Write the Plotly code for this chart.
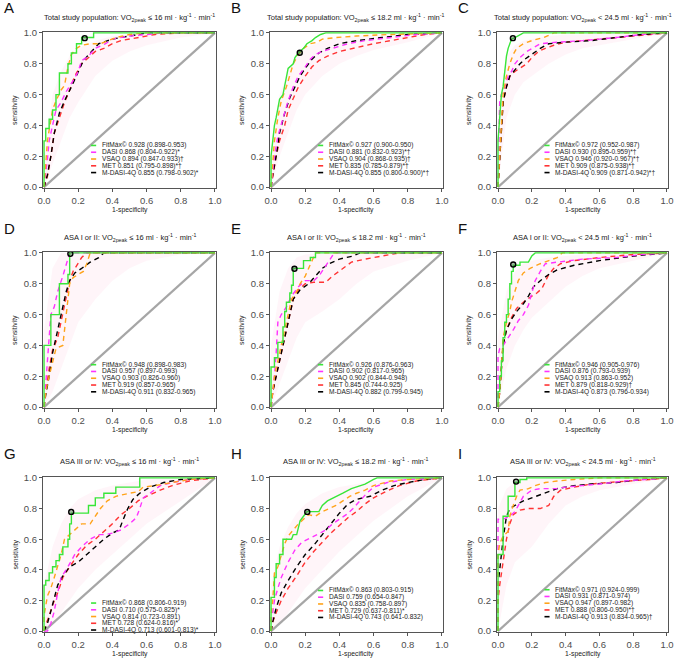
import plotly.graph_objects as go

# ---------------- data (1-specificity, sensitivity) ----------------
A_FIT = [(0,0),(0,0.3),(0.01,0.3),(0.01,0.38),(0.03,0.38),(0.03,0.44),(0.05,0.44),(0.05,0.5),(0.07,0.5),(0.07,0.6),(0.09,0.6),(0.09,0.74),(0.14,0.74),(0.14,0.8),(0.16,0.8),(0.16,0.87),(0.19,0.87),(0.19,0.93),(0.22,0.93),(0.22,0.97),(0.29,0.97),(0.29,1),(1,1)]
A_DASI = [(0,0),(0.01,0.08),(0.02,0.18),(0.03,0.3),(0.05,0.4),(0.07,0.5),(0.1,0.55),(0.13,0.62),(0.17,0.69),(0.2,0.75),(0.22,0.82),(0.26,0.85),(0.3,0.9),(0.36,0.93),(0.4,0.96),(0.5,0.98),(0.7,1),(1,1)]
A_VSAQ = [(0,0),(0.01,0.13),(0.02,0.3),(0.03,0.37),(0.05,0.5),(0.07,0.56),(0.1,0.63),(0.12,0.66),(0.14,0.78),(0.16,0.86),(0.19,0.9),(0.22,0.92),(0.27,0.93),(0.33,0.93),(0.37,0.95),(0.42,0.97),(0.5,0.99),(0.6,1),(1,1)]
A_MET = [(0,0),(0.02,0.07),(0.04,0.2),(0.06,0.35),(0.09,0.45),(0.12,0.55),(0.15,0.63),(0.18,0.72),(0.22,0.8),(0.26,0.84),(0.3,0.88),(0.35,0.9),(0.4,0.93),(0.45,0.95),(0.55,0.97),(0.65,0.99),(0.8,1),(1,1)]
A_MDASI = [(0,0),(0.02,0.08),(0.04,0.2),(0.06,0.35),(0.09,0.48),(0.12,0.56),(0.16,0.65),(0.2,0.75),(0.23,0.82),(0.27,0.87),(0.32,0.93),(0.4,0.96),(0.5,0.98),(0.6,1),(1,1)]

B_FIT = [(0,0),(0,0.2),(0.01,0.3),(0.02,0.4),(0.03,0.45),(0.04,0.5),(0.05,0.57),(0.07,0.6),(0.09,0.7),(0.1,0.77),(0.13,0.8),(0.14,0.84),(0.16,0.87),(0.19,0.9),(0.21,0.93),(0.24,0.95),(0.26,0.97),(0.29,0.99),(0.32,1),(1,1)]
B_DASI = [(0,0),(0.01,0.1),(0.02,0.2),(0.04,0.33),(0.07,0.45),(0.1,0.56),(0.13,0.65),(0.16,0.72),(0.2,0.78),(0.23,0.83),(0.26,0.86),(0.3,0.88),(0.36,0.9),(0.45,0.93),(0.55,0.95),(0.7,0.97),(0.85,0.99),(1,1)]
B_VSAQ = [(0,0),(0.01,0.15),(0.02,0.3),(0.04,0.45),(0.06,0.56),(0.09,0.65),(0.11,0.72),(0.13,0.8),(0.16,0.86),(0.19,0.9),(0.23,0.93),(0.27,0.94),(0.3,0.96),(0.38,0.97),(0.5,0.98),(0.7,0.99),(1,1)]
B_MET = [(0,0),(0.01,0.07),(0.03,0.2),(0.05,0.3),(0.08,0.4),(0.1,0.5),(0.13,0.58),(0.16,0.65),(0.2,0.72),(0.24,0.78),(0.28,0.82),(0.33,0.85),(0.4,0.88),(0.48,0.9),(0.6,0.93),(0.75,0.96),(0.9,0.99),(1,1)]
B_MDASI = [(0,0),(0.01,0.08),(0.03,0.2),(0.05,0.35),(0.08,0.48),(0.11,0.58),(0.14,0.65),(0.17,0.72),(0.2,0.77),(0.24,0.83),(0.28,0.87),(0.33,0.9),(0.4,0.93),(0.5,0.95),(0.65,0.97),(0.8,0.99),(1,1)]

C_FIT = [(0,0),(0,0.3),(0.01,0.45),(0.02,0.6),(0.03,0.65),(0.04,0.75),(0.05,0.85),(0.06,0.9),(0.08,0.96),(0.1,0.97),(0.13,0.99),(0.15,1),(1,1)]
C_DASI = [(0,0),(0.005,0.3),(0.01,0.55),(0.02,0.6),(0.04,0.65),(0.06,0.72),(0.08,0.75),(0.1,0.8),(0.13,0.84),(0.17,0.88),(0.2,0.9),(0.25,0.93),(0.35,0.94),(0.5,0.95),(0.7,0.97),(0.85,0.99),(1,1)]
C_VSAQ = [(0,0),(0.01,0.2),(0.02,0.45),(0.03,0.6),(0.05,0.72),(0.07,0.8),(0.09,0.86),(0.11,0.9),(0.15,0.93),(0.2,0.95),(0.27,0.97),(0.33,1),(1,1)]
C_MET = [(0,0),(0.01,0.2),(0.02,0.4),(0.03,0.55),(0.05,0.65),(0.07,0.72),(0.1,0.75),(0.13,0.77),(0.17,0.8),(0.2,0.84),(0.24,0.88),(0.28,0.9),(0.33,0.92),(0.4,0.94),(0.5,0.95),(0.7,0.97),(0.9,0.99),(1,1)]
C_MDASI = [(0,0),(0.01,0.2),(0.02,0.4),(0.03,0.55),(0.05,0.65),(0.07,0.72),(0.1,0.76),(0.13,0.8),(0.16,0.83),(0.2,0.86),(0.25,0.9),(0.3,0.93),(0.4,0.94),(0.55,0.95),(0.7,0.97),(0.85,0.99),(1,1)]

D_FIT = [(0,0),(0,0.4),(0.04,0.4),(0.04,0.6),(0.09,0.6),(0.09,0.8),(0.14,0.8),(0.14,0.86),(0.15,0.86),(0.15,1),(1,1)]
D_DASI = [(0,0),(0.01,0.15),(0.02,0.3),(0.03,0.45),(0.04,0.6),(0.06,0.65),(0.08,0.75),(0.11,0.85),(0.13,0.92),(0.15,1),(1,1)]
D_VSAQ = [(0,0),(0.01,0.1),(0.03,0.2),(0.05,0.3),(0.07,0.38),(0.11,0.4),(0.12,0.5),(0.13,0.6),(0.14,0.7),(0.15,0.8),(0.17,0.84),(0.2,0.86),(0.23,0.88),(0.25,0.93),(0.27,1),(1,1)]
D_MET = [(0,0),(0.01,0.1),(0.03,0.25),(0.05,0.37),(0.08,0.45),(0.1,0.55),(0.12,0.65),(0.14,0.75),(0.15,0.82),(0.17,0.88),(0.2,0.93),(0.22,0.97),(0.25,1),(1,1)]
D_MDASI = [(0,0),(0.01,0.08),(0.03,0.2),(0.05,0.35),(0.07,0.45),(0.09,0.55),(0.11,0.65),(0.13,0.75),(0.15,0.82),(0.18,0.87),(0.22,0.9),(0.27,0.94),(0.32,0.97),(0.35,1),(1,1)]

E_FIT = [(0,0),(0,0.26),(0.02,0.26),(0.02,0.32),(0.04,0.32),(0.04,0.42),(0.07,0.42),(0.07,0.52),(0.08,0.52),(0.08,0.62),(0.09,0.62),(0.09,0.68),(0.11,0.68),(0.11,0.74),(0.12,0.74),(0.12,0.79),(0.13,0.79),(0.13,0.9),(0.19,0.9),(0.19,0.95),(0.23,0.95),(0.23,0.97),(0.26,0.97),(0.26,1),(1,1)]
E_DASI = [(0,0),(0.01,0.1),(0.02,0.2),(0.03,0.35),(0.04,0.55),(0.06,0.6),(0.09,0.65),(0.12,0.72),(0.16,0.78),(0.2,0.82),(0.25,0.82),(0.28,0.85),(0.31,0.9),(0.34,0.95),(0.37,1),(1,1)]
E_VSAQ = [(0,0),(0.01,0.1),(0.02,0.2),(0.04,0.3),(0.06,0.4),(0.08,0.5),(0.1,0.6),(0.12,0.7),(0.15,0.75),(0.17,0.8),(0.2,0.85),(0.22,0.9),(0.24,0.95),(0.26,1),(1,1)]
E_MET = [(0,0),(0.01,0.1),(0.03,0.2),(0.05,0.3),(0.07,0.4),(0.09,0.5),(0.11,0.6),(0.13,0.7),(0.16,0.76),(0.2,0.8),(0.25,0.81),(0.32,0.81),(0.36,0.85),(0.42,0.9),(0.47,0.94),(0.55,0.96),(0.65,0.98),(0.75,1),(1,1)]
E_MDASI = [(0,0),(0.01,0.1),(0.03,0.2),(0.05,0.3),(0.07,0.4),(0.09,0.5),(0.11,0.6),(0.13,0.7),(0.17,0.76),(0.22,0.8),(0.26,0.85),(0.3,0.9),(0.34,0.93),(0.4,0.96),(0.48,0.98),(0.52,1),(1,1)]

F_FIT = [(0,0),(0,0.1),(0.01,0.1),(0.01,0.2),(0.02,0.2),(0.02,0.3),(0.03,0.3),(0.03,0.45),(0.04,0.45),(0.04,0.55),(0.05,0.55),(0.05,0.6),(0.06,0.6),(0.06,0.7),(0.07,0.7),(0.07,0.8),(0.08,0.8),(0.08,0.88),(0.09,0.88),(0.09,0.92),(0.13,0.92),(0.13,0.94),(0.18,0.94),(0.19,0.96),(0.2,0.98),(0.22,1),(1,1)]
F_DASI = [(0,0),(0,0.33),(0.01,0.38),(0.03,0.4),(0.06,0.45),(0.09,0.5),(0.12,0.56),(0.15,0.6),(0.18,0.66),(0.2,0.75),(0.22,0.82),(0.25,0.88),(0.28,0.93),(0.35,0.94),(0.5,0.96),(0.7,0.97),(0.85,0.99),(1,1)]
F_VSAQ = [(0,0),(0.01,0.1),(0.02,0.25),(0.03,0.45),(0.05,0.55),(0.07,0.62),(0.08,0.68),(0.1,0.75),(0.12,0.82),(0.15,0.87),(0.19,0.9),(0.25,0.93),(0.3,0.95),(0.35,0.97),(0.38,1),(1,1)]
F_MET = [(0,0),(0.01,0.1),(0.02,0.25),(0.03,0.4),(0.05,0.5),(0.08,0.58),(0.11,0.64),(0.15,0.68),(0.2,0.72),(0.23,0.74),(0.26,0.77),(0.28,0.82),(0.3,0.86),(0.33,0.9),(0.37,0.93),(0.45,0.95),(0.6,0.97),(0.8,0.99),(1,1)]
F_MDASI = [(0,0),(0.01,0.1),(0.02,0.25),(0.03,0.4),(0.05,0.5),(0.08,0.57),(0.11,0.62),(0.15,0.67),(0.18,0.72),(0.21,0.78),(0.25,0.82),(0.3,0.86),(0.35,0.89),(0.45,0.92),(0.6,0.95),(0.8,0.98),(1,1)]

G_FIT = [(0,0),(0,0.3),(0.01,0.3),(0.01,0.33),(0.03,0.33),(0.03,0.38),(0.05,0.38),(0.05,0.42),(0.07,0.42),(0.07,0.46),(0.09,0.46),(0.09,0.5),(0.11,0.5),(0.11,0.55),(0.14,0.55),(0.14,0.6),(0.15,0.6),(0.15,0.7),(0.16,0.7),(0.16,0.77),(0.26,0.77),(0.26,0.82),(0.3,0.82),(0.3,0.87),(0.35,0.87),(0.35,0.9),(0.42,0.9),(0.42,0.94),(0.56,0.94),(0.56,1),(1,1)]
G_DASI = [(0,0),(0.02,0),(0.04,0.05),(0.06,0.13),(0.08,0.25),(0.1,0.35),(0.14,0.42),(0.18,0.5),(0.22,0.55),(0.27,0.6),(0.32,0.63),(0.36,0.63),(0.4,0.64),(0.45,0.66),(0.5,0.7),(0.54,0.74),(0.56,0.8),(0.58,0.87),(0.62,0.9),(0.68,0.95),(0.75,0.97),(0.85,0.99),(1,1)]
G_VSAQ = [(0,0),(0,0.1),(0.02,0.23),(0.04,0.28),(0.06,0.35),(0.08,0.42),(0.1,0.5),(0.12,0.6),(0.15,0.63),(0.18,0.66),(0.22,0.7),(0.27,0.7),(0.3,0.75),(0.33,0.8),(0.37,0.85),(0.42,0.88),(0.5,0.9),(0.55,0.91),(0.58,0.94),(0.65,0.95),(0.75,0.97),(0.85,0.99),(1,1)]
G_MET = [(0,0),(0.01,0.04),(0.03,0.1),(0.05,0.17),(0.08,0.25),(0.11,0.35),(0.15,0.42),(0.2,0.5),(0.25,0.56),(0.3,0.6),(0.35,0.65),(0.4,0.7),(0.45,0.76),(0.5,0.8),(0.55,0.85),(0.6,0.88),(0.68,0.92),(0.75,0.95),(0.85,0.98),(1,1)]
G_MDASI = [(0,0),(0.02,0.05),(0.04,0.13),(0.06,0.22),(0.08,0.3),(0.11,0.36),(0.15,0.42),(0.2,0.45),(0.25,0.5),(0.3,0.55),(0.35,0.6),(0.4,0.64),(0.44,0.66),(0.46,0.72),(0.49,0.8),(0.52,0.86),(0.56,0.9),(0.62,0.94),(0.7,0.97),(0.8,0.99),(1,1)]

H_FIT = [(0,0),(0,0.22),(0.02,0.22),(0.02,0.35),(0.03,0.35),(0.03,0.44),(0.05,0.44),(0.05,0.5),(0.07,0.5),(0.07,0.6),(0.12,0.6),(0.13,0.63),(0.15,0.63),(0.16,0.68),(0.17,0.72),(0.19,0.75),(0.21,0.78),(0.28,0.78),(0.3,0.82),(0.33,0.85),(0.37,0.87),(0.42,0.9),(0.47,0.93),(0.55,0.96),(0.6,0.99),(0.62,1),(1,1)]
H_DASI = [(0,0),(0,0.05),(0.01,0.12),(0.02,0.2),(0.04,0.28),(0.06,0.35),(0.1,0.45),(0.14,0.53),(0.18,0.58),(0.22,0.6),(0.27,0.63),(0.32,0.66),(0.36,0.7),(0.4,0.73),(0.44,0.76),(0.48,0.8),(0.52,0.85),(0.56,0.9),(0.6,0.94),(0.68,0.97),(0.8,0.99),(1,1)]
H_VSAQ = [(0,0),(0,0.1),(0.01,0.2),(0.02,0.38),(0.04,0.42),(0.06,0.5),(0.08,0.57),(0.1,0.62),(0.13,0.66),(0.16,0.7),(0.19,0.73),(0.22,0.76),(0.26,0.75),(0.3,0.78),(0.34,0.8),(0.38,0.82),(0.42,0.85),(0.46,0.88),(0.5,0.9),(0.55,0.92),(0.6,0.95),(0.7,0.98),(0.8,0.99),(1,1)]
H_MET = [(0,0),(0.01,0.06),(0.03,0.12),(0.06,0.2),(0.1,0.28),(0.15,0.36),(0.2,0.45),(0.25,0.52),(0.3,0.58),(0.35,0.64),(0.4,0.69),(0.45,0.74),(0.5,0.78),(0.55,0.83),(0.6,0.87),(0.67,0.91),(0.75,0.95),(0.85,0.98),(1,1)]
H_MDASI = [(0,0),(0.01,0.06),(0.03,0.15),(0.06,0.25),(0.1,0.33),(0.15,0.42),(0.2,0.5),(0.25,0.56),(0.3,0.63),(0.35,0.7),(0.4,0.77),(0.45,0.83),(0.5,0.86),(0.58,0.88),(0.65,0.92),(0.72,0.95),(0.8,0.97),(0.9,0.99),(1,1)]

I_FIT = [(0,0),(0,0.5),(0.03,0.5),(0.03,0.75),(0.06,0.75),(0.06,0.88),(0.1,0.88),(0.1,0.97),(0.13,0.97),(0.13,0.99),(0.17,0.99),(0.17,1),(1,1)]
I_DASI = [(0,0),(0,0.73),(0.03,0.73),(0.05,0.74),(0.07,0.75),(0.1,0.78),(0.12,0.82),(0.15,0.88),(0.2,0.92),(0.25,0.93),(0.3,0.93),(0.35,0.93),(0.4,0.94),(0.5,0.95),(0.6,0.96),(0.75,0.98),(0.9,0.99),(1,1)]
I_VSAQ = [(0,0),(0,0.5),(0.01,0.57),(0.03,0.62),(0.06,0.65),(0.07,0.75),(0.09,0.82),(0.11,0.88),(0.13,0.92),(0.18,0.93),(0.22,0.95),(0.28,0.97),(0.35,0.98),(0.45,0.99),(0.6,1),(1,1)]
I_MET = [(0,0),(0,0.2),(0.01,0.3),(0.03,0.45),(0.05,0.6),(0.07,0.7),(0.09,0.76),(0.13,0.79),(0.18,0.8),(0.25,0.8),(0.3,0.82),(0.33,0.88),(0.37,0.92),(0.45,0.94),(0.55,0.96),(0.65,0.97),(0.8,0.98),(0.9,0.99),(1,1)]
I_MDASI = [(0,0),(0,0.3),(0.01,0.4),(0.03,0.6),(0.05,0.75),(0.07,0.8),(0.1,0.82),(0.15,0.85),(0.2,0.87),(0.25,0.89),(0.3,0.91),(0.35,0.93),(0.45,0.95),(0.55,0.96),(0.7,0.97),(0.85,0.99),(1,1)]

# optimal cut-off point of FitMax per panel
OPT_X = [0.238, 0.168, 0.088, 0.154, 0.137, 0.090, 0.159, 0.212, 0.107]
OPT_Y = [0.966, 0.871, 0.966, 0.994, 0.897, 0.925, 0.778, 0.778, 0.976]

# faint confidence band envelope per panel
BAND_X = [0, 0.05, 0.1, 0.15, 0.2, 0.3, 0.4, 0.5, 0.6, 0.8, 1.0]
BAND_LO = {
    "A": [0, 0.15, 0.3, 0.45, 0.55, 0.72, 0.82, 0.88, 0.92, 0.97, 1],
    "B": [0, 0.2, 0.35, 0.5, 0.6, 0.72, 0.8, 0.85, 0.89, 0.94, 1],
    "C": [0, 0.45, 0.6, 0.68, 0.72, 0.8, 0.86, 0.9, 0.92, 0.96, 1],
    "D": [0, 0.1, 0.25, 0.4, 0.55, 0.7, 0.82, 0.9, 0.95, 0.99, 1],
    "E": [0, 0.15, 0.3, 0.45, 0.55, 0.62, 0.7, 0.8, 0.88, 0.95, 1],
    "F": [0, 0.25, 0.4, 0.5, 0.58, 0.68, 0.78, 0.85, 0.9, 0.95, 1],
    "G": [0, 0.05, 0.12, 0.2, 0.28, 0.4, 0.5, 0.6, 0.7, 0.85, 1],
    "H": [0, 0.05, 0.12, 0.2, 0.28, 0.4, 0.52, 0.62, 0.72, 0.88, 1],
    "I": [0, 0.3, 0.45, 0.5, 0.55, 0.7, 0.82, 0.88, 0.92, 0.96, 1],
}
BAND_HI = {
    "A": [0.2, 0.6, 0.75, 0.85, 0.9, 0.95, 0.98, 0.99, 1, 1, 1],
    "B": [0.25, 0.6, 0.75, 0.85, 0.9, 0.95, 0.97, 0.98, 0.99, 1, 1],
    "C": [0.5, 0.85, 0.92, 0.95, 0.96, 0.98, 0.99, 0.99, 1, 1, 1],
    "D": [0.5, 0.9, 1, 1, 1, 1, 1, 1, 1, 1, 1],
    "E": [0.4, 0.75, 0.9, 0.97, 0.99, 1, 1, 1, 1, 1, 1],
    "F": [0.45, 0.75, 0.88, 0.93, 0.95, 0.97, 0.98, 0.99, 1, 1, 1],
    "G": [0.3, 0.55, 0.7, 0.8, 0.86, 0.92, 0.95, 0.97, 0.99, 1, 1],
    "H": [0.3, 0.55, 0.68, 0.77, 0.83, 0.9, 0.94, 0.96, 0.98, 1, 1],
    "I": [0.8, 0.93, 0.97, 0.98, 0.99, 1, 1, 1, 1, 1, 1],
}

PANEL_LETTERS = ["A", "B", "C", "D", "E", "F", "G", "H", "I"]
GROUPS = ["Total study population", "Total study population", "Total study population",
          "ASA I or II", "ASA I or II", "ASA I or II",
          "ASA III or IV", "ASA III or IV", "ASA III or IV"]
THRESHOLDS = ["≤ 16", "≤ 18.2", "< 24.5"] * 3

SERIES_NAMES = ["FitMáx©", "DASI", "VSAQ", "MET", "M-DASI-4Q"]
SERIES_COLORS = ["#39e639", "#ff33ff", "#ffa31a", "#ff3333", "#000000"]

AUC_TEXT = {
    "A": ["0.928 (0.898-0.953)", "0.868 (0.804-0.922)*", "0.894 (0.847-0.933)†", "0.851 (0.795-0.898)*†", "0.855 (0.798-0.902)*"],
    "B": ["0.927 (0.900-0.950)", "0.881 (0.832-0.923)*†", "0.904 (0.868-0.935)†", "0.835 (0.785-0.879)*†", "0.855 (0.800-0.900)*†"],
    "C": ["0.972 (0.952-0.987)", "0.930 (0.895-0.959)*†", "0.946 (0.920-0.967)*†", "0.909 (0.875-0.938)*†", "0.909 (0.871-0.942)*†"],
    "D": ["0.948 (0.898-0.983)", "0.957 (0.897-0.993)", "0.903 (0.826-0.960)", "0.919 (0.857-0.965)", "0.911 (0.832-0.965)"],
    "E": ["0.926 (0.876-0.963)", "0.902 (0.817-0.965)", "0.902 (0.844-0.948)", "0.845 (0.744-0.925)", "0.882 (0.799-0.945)"],
    "F": ["0.946 (0.905-0.976)", "0.876 (0.793-0.939)", "0.913 (0.863-0.952)", "0.879 (0.818-0.929)†", "0.873 (0.796-0.934)"],
    "G": ["0.868 (0.806-0.919)", "0.710 (0.575-0.825)*", "0.814 (0.723-0.891)", "0.728 (0.624-0.816)*", "0.713 (0.601-0.813)*"],
    "H": ["0.863 (0.803-0.915)", "0.759 (0.654-0.847)", "0.835 (0.758-0.897)", "0.729 (0.637-0.811)*", "0.743 (0.641-0.832)"],
    "I": ["0.971 (0.924-0.999)", "0.931 (0.871-0.974)", "0.947 (0.897-0.982)", "0.888 (0.806-0.950)*†", "0.913 (0.834-0.965)†"],
}

CURVES = {
    "A": [A_FIT, A_DASI, A_VSAQ, A_MET, A_MDASI],
    "B": [B_FIT, B_DASI, B_VSAQ, B_MET, B_MDASI],
    "C": [C_FIT, C_DASI, C_VSAQ, C_MET, C_MDASI],
    "D": [D_FIT, D_DASI, D_VSAQ, D_MET, D_MDASI],
    "E": [E_FIT, E_DASI, E_VSAQ, E_MET, E_MDASI],
    "F": [F_FIT, F_DASI, F_VSAQ, F_MET, F_MDASI],
    "G": [G_FIT, G_DASI, G_VSAQ, G_MET, G_MDASI],
    "H": [H_FIT, H_DASI, H_VSAQ, H_MET, H_MDASI],
    "I": [I_FIT, I_DASI, I_VSAQ, I_MET, I_MDASI],
}

TICKS = [0, 0.2, 0.4, 0.6, 0.8, 1.0]
TICK_LABELS = ["0.0", "0.2", "0.4", "0.6", "0.8", "1.0"]

# ---------------- layout geometry (pixels) ----------------
W, H = 676, 660
COL_PX = [(43, 216), (270, 443), (497, 668)]
ROW_PX = [(32, 188), (252, 408), (477, 632)]
LEGEND_TOP = [0.27, 0.27, 0.27, 0.275, 0.275, 0.275, 0.183, 0.265, 0.27]
LEGEND_STEP = 0.044

FONT = "Liberation Sans, Arial, sans-serif"


def px_x(p):
    return p / W


def px_y(p):
    return 1 - p / H


fig = go.Figure()
annotations = []
shapes = []
layout_axes = {}

draw_order = [3, 4, 1, 2, 0]

for i, letter in enumerate(PANEL_LETTERS):
    r, c = divmod(i, 3)
    n = i + 1
    xs = "" if n == 1 else str(n)
    xref, yref = "x" + xs, "y" + xs
    l, rgt = COL_PX[c]
    t, b = ROW_PX[r]

    axis_common = dict(
        range=[-0.006, 1.006], showgrid=False, zeroline=False, automargin=False,
        showline=True, mirror=True, linecolor="#555555", linewidth=1.1,
        ticks="outside", ticklen=3, tickwidth=1, tickcolor="#555555",
        tickvals=TICKS, ticktext=TICK_LABELS,
        tickfont=dict(size=9.5, color="#4d4d4d", family=FONT),
        fixedrange=True,
    )
    layout_axes["xaxis" + xs] = dict(axis_common, domain=[px_x(l), px_x(rgt)], anchor=yref)
    layout_axes["yaxis" + xs] = dict(axis_common, domain=[px_y(b), px_y(t)], anchor=xref)

    # faint band
    fig.add_trace(go.Scatter(x=BAND_X, y=BAND_LO[letter], xaxis=xref, yaxis=yref, mode="lines",
                             line=dict(width=0), hoverinfo="skip", showlegend=False))
    fig.add_trace(go.Scatter(x=BAND_X, y=BAND_HI[letter], xaxis=xref, yaxis=yref, mode="lines",
                             line=dict(width=0), fill="tonexty", fillcolor="rgba(255,140,190,0.09)",
                             hoverinfo="skip", showlegend=False))
    # diagonal
    fig.add_trace(go.Scatter(x=[0, 1], y=[0, 1], xaxis=xref, yaxis=yref, mode="lines",
                             line=dict(color="#a6a6a6", width=2.2), hoverinfo="skip", showlegend=False))
    # curves
    for k in draw_order:
        pts = CURVES[letter][k]
        fig.add_trace(go.Scatter(
            x=[p[0] for p in pts], y=[p[1] for p in pts], xaxis=xref, yaxis=yref, mode="lines",
            line=dict(color=SERIES_COLORS[k], width=1.4, dash="solid" if k == 0 else "5px,4px"),
            showlegend=False, name=SERIES_NAMES[k]))
    # optimal point
    fig.add_trace(go.Scatter(x=[OPT_X[i]], y=[OPT_Y[i]], xaxis=xref, yaxis=yref, mode="markers",
                             marker=dict(size=5, color="rgba(80,120,80,0.5)", line=dict(color="black", width=1.4)),
                             showlegend=False))

    # legend (annotations + key lines)
    for k in range(5):
        yy = LEGEND_TOP[i] - k * LEGEND_STEP
        shapes.append(dict(type="line", xref=xref, yref=yref, x0=0.275, x1=0.305, y0=yy, y1=yy,
                           line=dict(color=SERIES_COLORS[k], width=1.6)))
        annotations.append(dict(xref=xref, yref=yref, x=0.325, y=yy, xanchor="left", yanchor="middle",
                                text=f"{SERIES_NAMES[k]} {AUC_TEXT[letter][k]}", showarrow=False,
                                font=dict(size=6.6, color="#222222", family=FONT)))

    # title
    title = (f"{GROUPS[i]}: VO<sub>2peak</sub> {THRESHOLDS[i]} ml · kg<sup>-1</sup> · min<sup>-1</sup>")
    annotations.append(dict(xref="paper", yref="paper", x=px_x((l + rgt) / 2), y=px_y(t - 15),
                            xanchor="center", yanchor="middle", text=title, showarrow=False,
                            font=dict(size=7.5, color="#222222", family=FONT)))
    # panel letter
    annotations.append(dict(xref="paper", yref="paper", x=px_x(l - 41), y=px_y(t - 24),
                            xanchor="left", yanchor="middle", text=letter, showarrow=False,
                            font=dict(size=15, color="#111111", family=FONT)))
    # axis titles
    annotations.append(dict(xref="paper", yref="paper", x=px_x(l - 28), y=px_y((t + b) / 2),
                            xanchor="center", yanchor="middle", text="sensitivity", textangle=-90,
                            showarrow=False, font=dict(size=6.8, color="#222222", family=FONT)))
    annotations.append(dict(xref="paper", yref="paper", x=px_x((l + rgt) / 2), y=px_y(b + 22),
                            xanchor="center", yanchor="middle", text="1-specificity",
                            showarrow=False, font=dict(size=6.8, color="#222222", family=FONT)))

fig.update_layout(
    width=W, height=H, margin=dict(l=0, r=0, t=0, b=0, autoexpand=False),
    paper_bgcolor="white", plot_bgcolor="white",
    showlegend=False, annotations=annotations, shapes=shapes,
    font=dict(family=FONT),
    **layout_axes,
)

fig.write_html(
    "out.html",
    config={"displayModeBar": False, "staticPlot": True},
    post_script="document.body.style.margin='0';document.body.style.padding='0';"
                "document.documentElement.style.overflow='hidden';",
)
